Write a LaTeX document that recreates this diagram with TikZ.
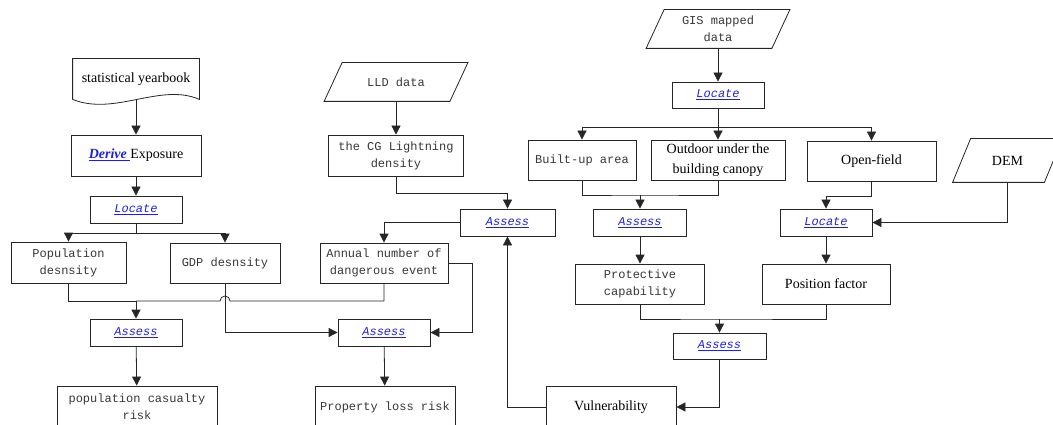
\documentclass[tikz,border=0pt]{standalone}
\usepackage{fontspec}
\setmainfont{Liberation Serif}
\setmonofont{Liberation Mono}
\usepackage{tikz}
\usetikzlibrary{arrows.meta}
\usepackage{xcolor}
\definecolor{linkblue}{RGB}{30,30,235}
\definecolor{monogray}{RGB}{55,55,55}
\newcommand{\lnk}[1]{\textcolor{linkblue}{\underline{\ttfamily\itshape #1}}}

\begin{document}
\begin{tikzpicture}[x=1pt, y=-1pt,
        box/.style={rectangle, draw=black!85, line width=0.8pt, inner sep=1pt, align=center, font=\fontsize{12}{17}\selectfont\ttfamily, text=monogray},
        serifbox/.style={box, font=\fontsize{14}{20}\selectfont\rmfamily, text=black},
        sz/.style 2 args={minimum width=#1pt, minimum height=#2pt},
        flow/.style={draw=black!85, line width=0.8pt},
        arrow/.style={flow, -{Triangle[length=9pt,width=9pt]}},
        ]
        \useasboundingbox (0,0) rectangle (1053,425);

        % exposure column
        \node (yearbook) at (136,79) [serifbox, draw=none, sz={126}{40}] {statistical yearbook};
        \draw[flow] (yearbook.south west) -- (yearbook.north west) -- (yearbook.north east) -- (yearbook.south east)
            .. controls +(-39,-17) and +(42,17) .. (yearbook.south west);
        \node (exposure) at (136,155.5) [serifbox, sz={130}{41}] {\textcolor{linkblue}{\underline{\bfseries\itshape Derive\ }}Exposure};
        \node (locate1) at (136,209.5) [box, sz={92}{27}] {\lnk{Locate}};
        \node (popdens) at (68.5,262.5) [box, sz={115}{41}] {Population\\desnsity};
        \node (gdpdens) at (225,263) [box, sz={110}{40}] {GDP desnsity};
        \node (assess1) at (136,332.5) [box, sz={92}{27}] {\lnk{Assess}};
        \node (casualty) at (137,407) [box, sz={160}{42}] {population casualty\\risk};

        % hazard column
        \node (lld) at (396,82) [box, draw=none, sz={143}{38}] {LLD data};
        \node (cgdens) at (396,155.5) [box, sz={135}{41}] {the CG Lightning\\density};
        \node (assess2) at (507.5,222.5) [box, sz={95}{27}] {\lnk{Assess}};
        \node (annual) at (384,263) [box, sz={128}{40}] {Annual number of\\dangerous event};
        \node (assess3) at (384,332.5) [box, sz={92}{27}] {\lnk{Assess}};
        \node (propdloss) at (385,407) [box, sz={140}{42}] {Property loss risk};
        \node (vuln) at (611,407) [serifbox, sz={130}{42}] {Vulnerability};

        % vulnerability column
        \node (gis) at (718,29) [box, draw=none, sz={143}{38}] {GIS mapped\\data};
        \node (locate2) at (718,95) [box, sz={92}{26}] {\lnk{Locate}};
        \node (builtup) at (582,160) [box, sz={108}{40}] {Built-up area};
        \node (outdoor) at (718,160) [serifbox, sz={134}{40}] {Outdoor under the\\building canopy};
        \node (openfield) at (871.5,161) [serifbox, sz={129}{40}] {Open-field};
        \node (dem) at (1007.5,160.5) [serifbox, draw=none, sz={109}{43}] {DEM};
        \node (assess4) at (640,222.5) [box, sz={93}{27}] {\lnk{Assess}};
        \node (locate3) at (826,222.5) [box, sz={92}{27}] {\lnk{Locate}};
        \node (protect) at (640,284) [box, sz={129}{40}] {Protective\\capability};
        \node (posfactor) at (826,284) [serifbox, sz={128}{40}] {Position factor};
        \node (assess5) at (719.5,346) [box, sz={93}{26}] {\lnk{Assess}};

        \foreach \n in {lld,gis,dem}
            \draw[flow] ([xshift=18pt]\n.north west) -- (\n.north east) -- ([xshift=-18pt]\n.south east) -- (\n.south west) -- cycle;

        \coordinate (split1) at (136,233);
        \coordinate (join1) at (136,301);
        \coordinate (hop) at (225,301);
        \coordinate (split2) at (718,127);
        \coordinate (join2) at (640,195);
        \coordinate (join3) at (719.5,319);

        \draw[arrow] (yearbook.south) -- (exposure.north);
        \draw[arrow] (exposure) -- (locate1);
        \draw[flow] (locate1) -- (split1);
        \draw[arrow] (split1) -| (popdens);
        \draw[arrow] (split1) -| (gdpdens);
        \draw[flow] (popdens.south) |- (join1);
        \draw[flow] (annual.south) |- ([xshift=5pt]hop) arc[start angle=0, end angle=180, radius=5pt] -- (join1);
        \draw[arrow] (join1) -- (assess1);
        \draw[arrow] (gdpdens.south) |- (assess3.west);
        \draw[arrow] (assess1) -- (casualty);

        \draw[arrow] (lld) -- (cgdens);
        \draw[arrow] (cgdens.south) -- ++(0,17) -| (assess2.north);
        \draw[arrow] (assess2.west) -| (annual.north);
        \draw[arrow] (annual.east) -- ++(24,0) |- (assess3.east);
        \draw[arrow] (assess3) -- (propdloss);
        \draw[arrow] (vuln.west) -| (assess2.south);

        \draw[arrow] (gis) -- (locate2);
        \draw[flow] (locate2) -- (split2);
        \draw[arrow] (split2) -| (builtup);
        \draw[arrow] (split2) -- (outdoor);
        \draw[arrow] (split2) -| (openfield);
        \draw[flow] (builtup.south) |- (join2) -| (outdoor.south);
        \draw[arrow] (join2) -- (assess4);
        \draw[arrow] (openfield.south) -- ++(0,15) -| (locate3.north);
        \draw[arrow] (dem.south) |- (locate3.east);
        \draw[arrow] (assess4) -- (protect);
        \draw[arrow] (locate3) -- (posfactor);
        \draw[flow] (protect.south) |- (join3) -| (posfactor.south);
        \draw[arrow] (join3) -- (assess5);
        \draw[arrow] (assess5.south) |- (vuln.east);
    \end{tikzpicture}
\end{document}
